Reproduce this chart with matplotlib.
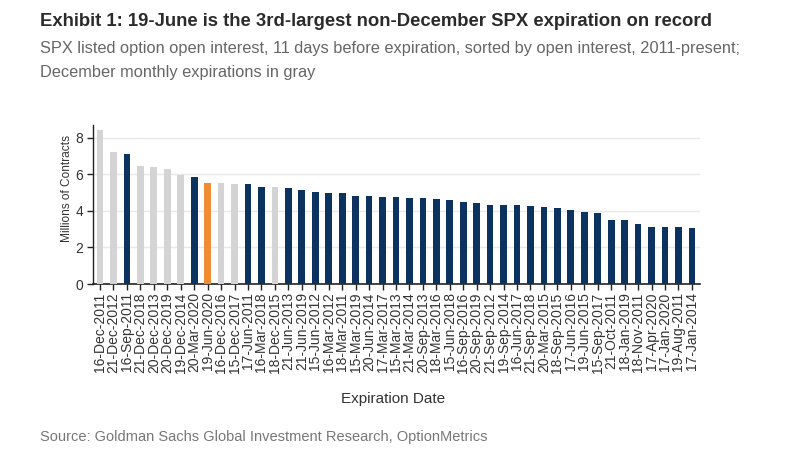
import matplotlib
matplotlib.use("Agg")
import matplotlib.pyplot as plt

labels = ["16-Dec-2011", "21-Dec-2012", "16-Sep-2011", "21-Dec-2018", "20-Dec-2013",
          "20-Dec-2019", "19-Dec-2014", "20-Mar-2020", "19-Jun-2020", "16-Dec-2016",
          "15-Dec-2017", "17-Jun-2011", "16-Mar-2018", "18-Dec-2015", "21-Jun-2013",
          "21-Jun-2019", "15-Jun-2012", "16-Mar-2012", "18-Mar-2011", "15-Mar-2019",
          "20-Jun-2014", "17-Mar-2017", "15-Mar-2013", "21-Mar-2014", "20-Sep-2013",
          "18-Mar-2016", "15-Jun-2018", "16-Sep-2016", "20-Sep-2019", "21-Sep-2012",
          "19-Sep-2014", "16-Jun-2017", "21-Sep-2018", "20-Mar-2015", "18-Sep-2015",
          "17-Jun-2016", "19-Jun-2015", "15-Sep-2017", "21-Oct-2011", "18-Jan-2019",
          "18-Nov-2011", "17-Apr-2020", "17-Jan-2020", "19-Aug-2011", "17-Jan-2014"]
values = [8.42, 7.20, 7.14, 6.45, 6.38, 6.27, 5.96, 5.87, 5.54, 5.50,
          5.45, 5.45, 5.32, 5.32, 5.25, 5.12, 5.05, 5.00, 4.98, 4.83,
          4.83, 4.78, 4.76, 4.70, 4.68, 4.63, 4.57, 4.50, 4.43, 4.34,
          4.34, 4.34, 4.28, 4.22, 4.16, 4.03, 3.95, 3.86, 3.48, 3.48,
          3.26, 3.13, 3.13, 3.13, 3.06]
highlight = "19-Jun-2020"
yticks = [0, 2, 4, 6, 8]

NAVY = "#0c3360"
GRAY = "#d4d4d4"
ORANGE = "#ef8c34"
FONT = "Liberation Sans"

colors = []
for lab in labels:
    if lab == highlight:
        colors.append(ORANGE)
    elif "-Dec-" in lab:
        colors.append(GRAY)
    else:
        colors.append(NAVY)

fig = plt.figure(figsize=(7.89, 4.59), dpi=100)
W, H = 789, 459
ax = fig.add_axes([93 / W, 1 - 284 / H, (700 - 93) / W, (284 - 125) / H])

x = list(range(len(labels)))
ax.bar(x, values, width=0.5, color=colors, zorder=3)
ax.set_xlim(-0.52, len(labels) - 1 + 0.6)
ax.set_ylim(0, 8.7)
ax.set_yticks(yticks)
ax.yaxis.grid(True, color="#e8e8e8", linewidth=1.0, zorder=0)
ax.set_axisbelow(True)
for s in ["top", "right"]:
    ax.spines[s].set_visible(False)
ax.spines["left"].set_color("#222222")
ax.spines["bottom"].set_color("#222222")
ax.spines["left"].set_linewidth(1.0)
ax.spines["bottom"].set_linewidth(1.2)

ax.set_xticks(x)
ax.set_xticklabels(labels, rotation=90, fontsize=10, family=FONT, color="#333333")
ax.tick_params(axis="x", length=4, width=1, color="#222222", pad=2)
ax.tick_params(axis="y", length=4, width=1, color="#222222", labelsize=10, labelcolor="#333333", pad=3)
for t in ax.get_yticklabels():
    t.set_family(FONT)

ax.set_ylabel("Millions of Contracts", fontsize=8.6, family=FONT, color="#333333")
ax.yaxis.set_label_coords(-0.033, 0.60)
fig.text(393 / W, 1 - 399 / H, "Expiration Date", ha="center", va="center",
         fontsize=11, family=FONT, color="#333333")

fig.text(40 / W, 1 - 21 / H,
         "Exhibit 1: 19-June is the 3rd-largest non-December SPX expiration on record",
         ha="left", va="center", fontsize=13.3, fontweight="bold", family=FONT, color="#2b2b2b")
fig.text(40 / W, 1 - 48 / H,
         "SPX listed option open interest, 11 days before expiration, sorted by open interest, 2011-present;",
         ha="left", va="center", fontsize=11.8, family=FONT, color="#666666")
fig.text(40 / W, 1 - 73 / H, "December monthly expirations in gray",
         ha="left", va="center", fontsize=11.8, family=FONT, color="#666666")
fig.text(40 / W, 1 - 437 / H, "Source: Goldman Sachs Global Investment Research, OptionMetrics",
         ha="left", va="center", fontsize=10.5, family=FONT, color="#777777")

fig.savefig("out.png", dpi=100, facecolor="white")
